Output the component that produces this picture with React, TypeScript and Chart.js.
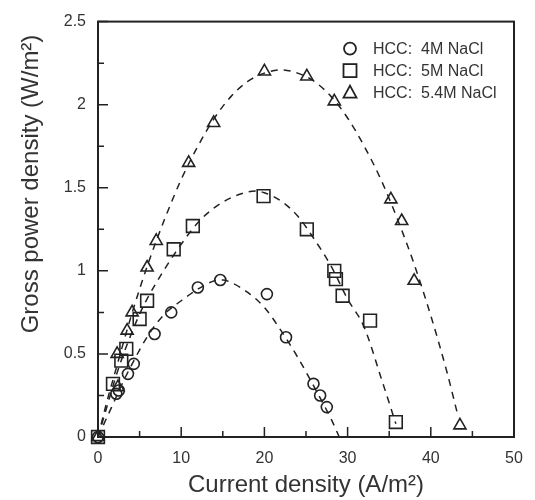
import React, { useEffect, useRef } from 'react';
import { Chart, registerables } from 'chart.js';

Chart.register(...registerables);

// ---------- data ----------
const X_TICKS = [0, 10, 20, 30, 40, 50];
const X_MINOR = [5, 15, 25, 35, 45];
const Y_TICKS = [0, 0.5, 1, 1.5, 2, 2.5];
const Y_TICK_LABELS = ['0', '0.5', '1', '1.5', '2', '2.5'];
const Y_MINOR = [0.25, 0.75, 1.25, 1.75, 2.25];

const X_TITLE = 'Current density (A/m²)';
const Y_TITLE = 'Gross power density (W/m²)';
const SERIES_NAMES = ['HCC:  4M NaCl', 'HCC:  5M NaCl', 'HCC:  5.4M NaCl'];

// 4M NaCl (circles)
const c4X = [0, 2.2, 2.5, 3.6, 4.3, 6.8, 8.8, 12.0, 14.7, 20.3, 22.6, 25.9, 26.7, 27.5];
const c4Y = [0, 0.26, 0.28, 0.38, 0.44, 0.62, 0.75, 0.90, 0.945, 0.86, 0.60, 0.32, 0.25, 0.18];

// 5M NaCl (squares)
const c5X = [0, 1.8, 2.8, 3.4, 5.0, 5.9, 9.1, 11.4, 19.9, 25.1, 28.4, 28.6, 29.4, 32.7, 35.8];
const c5Y = [0, 0.32, 0.46, 0.53, 0.71, 0.82, 1.13, 1.27, 1.45, 1.25, 1.0, 0.95, 0.85, 0.70, 0.09];

// 5.4M NaCl (triangles)
const c54X = [0, 2.3, 2.4, 3.5, 4.1, 5.9, 7.0, 10.9, 13.9, 20.0, 25.1, 28.4, 35.2, 36.5, 38.0, 43.5];
const c54Y = [0, 0.50, 0.30, 0.64, 0.75, 1.02, 1.18, 1.65, 1.89, 2.20, 2.17, 2.02, 1.43, 1.30, 0.94, 0.07];

// fitted dashed curves
const f4X = [0, 1, 2, 3, 4, 6, 8, 10, 12, 14, 15, 16, 18, 20, 22, 24, 26, 28, 29];
const f4Y = [0, 0.11, 0.22, 0.33, 0.43, 0.61, 0.74, 0.82, 0.89, 0.94, 0.945, 0.93, 0.87, 0.78, 0.64, 0.48, 0.30, 0.11, 0];

const f5X = [0, 1, 2, 3, 4, 5, 6, 8, 10, 12, 14, 16, 18, 19, 20, 22, 24, 26, 28, 30, 32, 34, 35.8];
const f5Y = [0, 0.17, 0.34, 0.49, 0.62, 0.74, 0.84, 1.01, 1.16, 1.29, 1.38, 1.44, 1.475, 1.48, 1.47, 1.42, 1.33, 1.19, 1.03, 0.83, 0.66, 0.36, 0.08];

const f54X = [0, 1, 2, 4, 6, 8, 10, 12, 14, 16, 18, 20, 22, 24, 26, 28, 30, 32, 34, 36, 38, 40, 42, 43.3];
const f54Y = [0, 0.2, 0.38, 0.73, 1.04, 1.31, 1.55, 1.75, 1.92, 2.05, 2.14, 2.19, 2.21, 2.19, 2.14, 2.05, 1.92, 1.75, 1.55, 1.31, 1.04, 0.73, 0.38, 0.12];

const toPts = (xs: number[], ys: number[]) => xs.map((x, i) => ({ x, y: ys[i] }));

const FONT = '"Liberation Sans", Arial, sans-serif';
const INK = '#222';
const TEXT = '#333';

const decorPlugin = {
  id: 'decor',
  afterDatasetsDraw(chart: any) {
    const { ctx, chartArea: a, scales } = chart;
    const xs = scales.x;
    const ys = scales.y;
    ctx.save();
    // box
    ctx.strokeStyle = INK;
    ctx.lineWidth = 2;
    ctx.strokeRect(a.left, a.top, a.right - a.left, a.bottom - a.top);
    // inward ticks
    ctx.lineWidth = 1.5;
    ctx.beginPath();
    X_TICKS.forEach((v) => {
      const p = xs.getPixelForValue(v);
      ctx.moveTo(p, a.bottom);
      ctx.lineTo(p, a.bottom - 10);
    });
    X_MINOR.forEach((v) => {
      const p = xs.getPixelForValue(v);
      ctx.moveTo(p, a.bottom);
      ctx.lineTo(p, a.bottom - 6);
    });
    Y_TICKS.forEach((v) => {
      const p = ys.getPixelForValue(v);
      ctx.moveTo(a.left, p);
      ctx.lineTo(a.left + 10, p);
    });
    Y_MINOR.forEach((v) => {
      const p = ys.getPixelForValue(v);
      ctx.moveTo(a.left, p);
      ctx.lineTo(a.left + 6, p);
    });
    ctx.stroke();

    // legend
    const lx = a.left + 252;
    const ly0 = a.top + 27;
    const dy = 22;
    ctx.lineWidth = 1.8;
    ctx.strokeStyle = INK;
    // circle
    ctx.beginPath();
    ctx.arc(lx, ly0, 6, 0, Math.PI * 2);
    ctx.stroke();
    // square
    ctx.strokeRect(lx - 6.5, ly0 + dy - 6.5, 13, 13);
    // triangle
    const ty = ly0 + 2 * dy;
    ctx.beginPath();
    ctx.moveTo(lx, ty - 7);
    ctx.lineTo(lx + 6.5, ty + 5);
    ctx.lineTo(lx - 6.5, ty + 5);
    ctx.closePath();
    ctx.stroke();
    ctx.fillStyle = TEXT;
    ctx.font = `16px ${FONT}`;
    ctx.textAlign = 'left';
    ctx.textBaseline = 'middle';
    SERIES_NAMES.forEach((n, i) => ctx.fillText(n, lx + 23, ly0 + i * dy + 1));

    // axis titles
    ctx.font = `24px ${FONT}`;
    ctx.textAlign = 'center';
    ctx.textBaseline = 'middle';
    ctx.fillText(X_TITLE, (a.left + a.right) / 2, 485);
    ctx.save();
    ctx.translate(31, 184);
    ctx.rotate(-Math.PI / 2);
    ctx.fillText(Y_TITLE, 0, 0);
    ctx.restore();
    ctx.restore();
  },
};

function App() {
  const ref = useRef<HTMLCanvasElement | null>(null);
  useEffect(() => {
    if (!ref.current) return;
    const markerBase = {
      type: 'scatter' as const,
      borderColor: INK,
      backgroundColor: 'rgba(0,0,0,0)',
      borderWidth: 1.6,
      showLine: false,
      clip: false,
    };
    const curveBase = {
      type: 'line' as const,
      borderColor: INK,
      borderWidth: 1.5,
      borderDash: [7, 6],
      pointRadius: 0,
      fill: false,
      cubicInterpolationMode: 'monotone' as const,
    };
    const chart = new Chart(ref.current, {
      type: 'scatter',
      data: {
        datasets: [
          { ...curveBase, data: toPts(f4X, f4Y) },
          { ...curveBase, data: toPts(f5X, f5Y) },
          { ...curveBase, data: toPts(f54X, f54Y) },
          { ...markerBase, label: SERIES_NAMES[0], data: toPts(c4X, c4Y), pointStyle: 'circle', pointRadius: 5.5 },
          { ...markerBase, label: SERIES_NAMES[1], data: toPts(c5X, c5Y), pointStyle: 'rect', pointRadius: 9 },
          { ...markerBase, label: SERIES_NAMES[2], data: toPts(c54X, c54Y), pointStyle: 'triangle', pointRadius: 7 },
        ] as any,
      },
      options: {
        animation: false,
        responsive: false,
        layout: { padding: { top: 16, right: 21, left: 0, bottom: 0 } },
        plugins: { legend: { display: false }, tooltip: { enabled: false } },
        scales: {
          x: {
            type: 'linear',
            min: 0,
            max: 50,
            grid: { display: false, drawTicks: false },
            border: { display: false },
            afterBuildTicks: (s: any) => {
              s.ticks = X_TICKS.map((v) => ({ value: v }));
            },
            afterFit: (s: any) => {
              s.height = 63;
            },
            ticks: {
              autoSkip: false,
              maxRotation: 0,
              padding: 12,
              color: TEXT,
              font: { family: FONT, size: 16 },
              callback: (v: any) => String(v),
            },
          },
          y: {
            type: 'linear',
            min: 0,
            max: 2.5,
            grid: { display: false, drawTicks: false },
            border: { display: false },
            afterBuildTicks: (s: any) => {
              s.ticks = Y_TICKS.map((v) => ({ value: v }));
            },
            afterFit: (s: any) => {
              s.width = 98;
            },
            ticks: {
              autoSkip: false,
              padding: 12,
              color: TEXT,
              font: { family: FONT, size: 16 },
              callback: (v: any) => {
                const i = Y_TICKS.indexOf(Number(v));
                return i >= 0 ? Y_TICK_LABELS[i] : '';
              },
            },
          },
        },
      },
      plugins: [decorPlugin],
    });
    return () => chart.destroy();
  }, []);
  return (
    <div style={{ position: 'absolute', left: 0, top: 0, width: 535, height: 500, background: '#fff' }}>
      <canvas ref={ref} width={535} height={500} style={{ width: 535, height: 500 }} />
    </div>
  );
}

export default App;
